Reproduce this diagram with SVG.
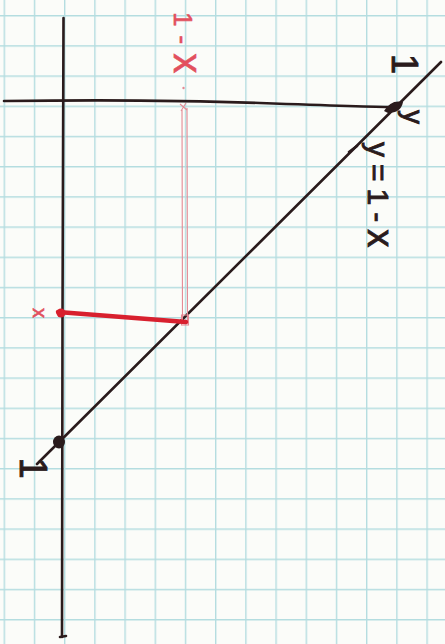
<svg xmlns="http://www.w3.org/2000/svg" width="445" height="644" viewBox="0 0 445 644">
  <defs>
    <pattern id="grid" x="3.6" y="15" width="30.2" height="30.2" patternUnits="userSpaceOnUse">
      <path d="M0.7,0 V30.2 M0,0.7 H30.2" fill="none" stroke="#b4dde0" stroke-width="1.4"/>
    </pattern>
    <style>
      .ink { fill: none; stroke: #2a1b1c; stroke-width: 2.6; stroke-linecap: round; stroke-linejoin: round; }
      .red { fill: none; stroke: #d8202e; stroke-linecap: round; stroke-linejoin: round; }
      .pink { fill: none; stroke: #e48a94; stroke-width: 1.1; }
      .lbl { font-family: "Liberation Sans", "DejaVu Sans", sans-serif; fill: #2a1b1c; stroke: #2a1b1c; stroke-width: 0.9; }
      .rlbl { font-family: "Liberation Sans", "DejaVu Sans", sans-serif; fill: #e2505e; stroke: #e2505e; stroke-width: 0.6; }
    </style>
  </defs>

  <g id="paper">
    <rect width="445" height="644" fill="#fbfcf9"/>
    <rect width="445" height="644" fill="url(#grid)"/>
  </g>

  <g id="axes">
    <path class="ink" d="M63.5,18 L62.5,320 L62,637"/>
    <path class="ink" d="M60,637 L66,636" stroke-width="3.5"/>
    <path class="ink" d="M4,101 Q150,99 260,103 T392,107"/>
  </g>

  <g id="line-y-1-x">
    <path class="ink" d="M37,464 L441,62" stroke-width="2.8"/>
    <ellipse cx="59" cy="442" rx="6" ry="6.5" fill="#2a1b1c"/>
    <path d="M384,111 Q391,99 403,102 Q401,113 388,113 Z" fill="#2a1b1c"/>
    <path class="ink" d="M349,152 L357,146" stroke-width="3"/>
  </g>

  <g id="red-construction">
    <path class="pink" d="M182,110 L182.5,323 M187,108 L187.5,323"/>
    <rect x="181.5" y="315" width="7" height="10" class="pink"/>
    <path class="red" d="M58,312 L186,322" stroke-width="4.5"/>
    <ellipse cx="61" cy="313" rx="4.5" ry="4.5" fill="#d8202e"/>
    <path class="pink" d="M180,104 L187,110 M186,103 L181,111" stroke-width="1.4"/>
    <circle cx="183.5" cy="88" r="1.2" fill="#e48a94"/>
  </g>

  <g id="labels">
    <text class="lbl" transform="translate(392,64) rotate(90)" font-size="36" text-anchor="middle">1</text>
    <text class="lbl" transform="translate(404,117) rotate(90)" font-size="28" text-anchor="middle">y</text>
    <text class="lbl" transform="translate(368,142) rotate(90)" font-size="30" letter-spacing="7">y=1-<tspan font-size="36">x</tspan></text>
    <text class="lbl" transform="translate(20,468) rotate(90)" font-size="38" text-anchor="middle">1</text>
    <text class="rlbl" transform="translate(33,313) rotate(90)" font-size="20" text-anchor="middle">x</text>
    <text class="rlbl" transform="translate(174,12) rotate(90)" font-size="26" letter-spacing="9">1-<tspan font-size="40">x</tspan></text>
  </g>
</svg>
